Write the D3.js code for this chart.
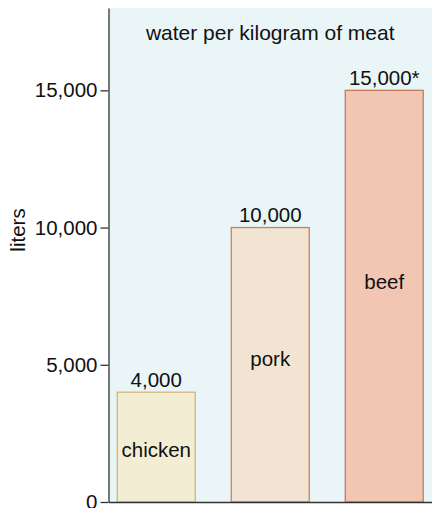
<!DOCTYPE html>
<html>
<head>
<meta charset="utf-8">
<script src="https://cdn.jsdelivr.net/npm/d3@7"></script>
<style>
  body { margin: 0; background: #fff; }
  text { font-family: 'Liberation Sans', Arial, sans-serif; fill: #111; }
</style>
</head>
<body>
<script>

// Data
const meats = ['chicken', 'pork', 'beef']
const liters = [4000, 10000, 15000]
const valueLabels = ['4,000', '10,000', '15,000*']
const nameAt = [1650, 4950, 7750]   // where the name sits, in liters
const yTicks = [0, 5000, 10000, 15000]
const fills = ['#f3eed3', '#f1e4d2', '#f1c7b4']
const strokes = ['#d3b679', '#cd7f5c', '#c77a5c']

const w = 432
const h = 508
const margin = { top: 8, right: 0, bottom: 6, left: 108.5 }

const svg = d3.select('body')
    .append('svg')
        .attr('width', w)
        .attr('height', h)

const xScale = d3.scaleBand()
    .domain(meats)
    .range([margin.left, w - margin.right])
    .paddingInner(0.316)
    .paddingOuter(0.077)

const yScale = d3.scaleLinear()
    .domain([0, 18000])
    .range([h - margin.bottom, margin.top])

// plot background
svg.append('rect')
    .attr('x', margin.left)
    .attr('y', margin.top)
    .attr('width', w - margin.right - margin.left)
    .attr('height', h - margin.bottom - margin.top)
    .attr('fill', '#eaf5f8')

svg.append('text')
    .attr('x', (margin.left + w - margin.right) / 2)
    .attr('y', 40)
    .attr('text-anchor', 'middle')
    .style('font-size', '21px')
    .text('water per kilogram of meat')

// bars
const bars = svg.selectAll('.bar')
    .data(meats)
    .enter()
    .append('g')
        .attr('class', 'bar')

bars.append('rect')
    .attr('x', d => xScale(d))
    .attr('y', (d, i) => yScale(liters[i]))
    .attr('width', xScale.bandwidth())
    .attr('height', (d, i) => yScale(0) - yScale(liters[i]))
    .attr('fill', (d, i) => fills[i])
    .attr('stroke', (d, i) => strokes[i])
    .attr('stroke-width', 1.3)

bars.append('text')
    .attr('x', d => xScale(d) + xScale.bandwidth() / 2)
    .attr('y', (d, i) => yScale(liters[i]) - 5.5)
    .attr('text-anchor', 'middle')
    .style('font-size', '20.5px')
    .text((d, i) => valueLabels[i])

bars.append('text')
    .attr('x', d => xScale(d) + xScale.bandwidth() / 2)
    .attr('y', (d, i) => yScale(nameAt[i]))
    .attr('text-anchor', 'middle')
    .style('font-size', '20.5px')
    .text(d => d)

// axes
const yAxis = d3.axisLeft(yScale)
    .tickValues(yTicks)
    .tickFormat(d3.format(','))
    .tickSize(8)
    .tickSizeOuter(0)
    .tickPadding(3)

const yG = svg.append('g')
    .attr('transform', `translate(${margin.left}, 0)`)
    .call(yAxis)

yG.selectAll('text')
    .style('font-size', '20.5px')
    .attr('fill', '#111')
    .style('font-family', "'Liberation Sans', Arial, sans-serif")

const xAxis = d3.axisBottom(xScale)
    .tickSize(0)
    .tickSizeOuter(0)
    .tickFormat('')

svg.append('g')
    .attr('transform', `translate(0, ${yScale(0)})`)
    .call(xAxis)

svg.selectAll('.domain, .tick line')
    .attr('stroke', '#333')
    .attr('stroke-width', 1.3)

svg.append('text')
    .attr('transform', 'translate(25, 230) rotate(-90)')
    .attr('text-anchor', 'middle')
    .style('font-size', '20.5px')
    .text('liters')

</script>
</body>
</html>
